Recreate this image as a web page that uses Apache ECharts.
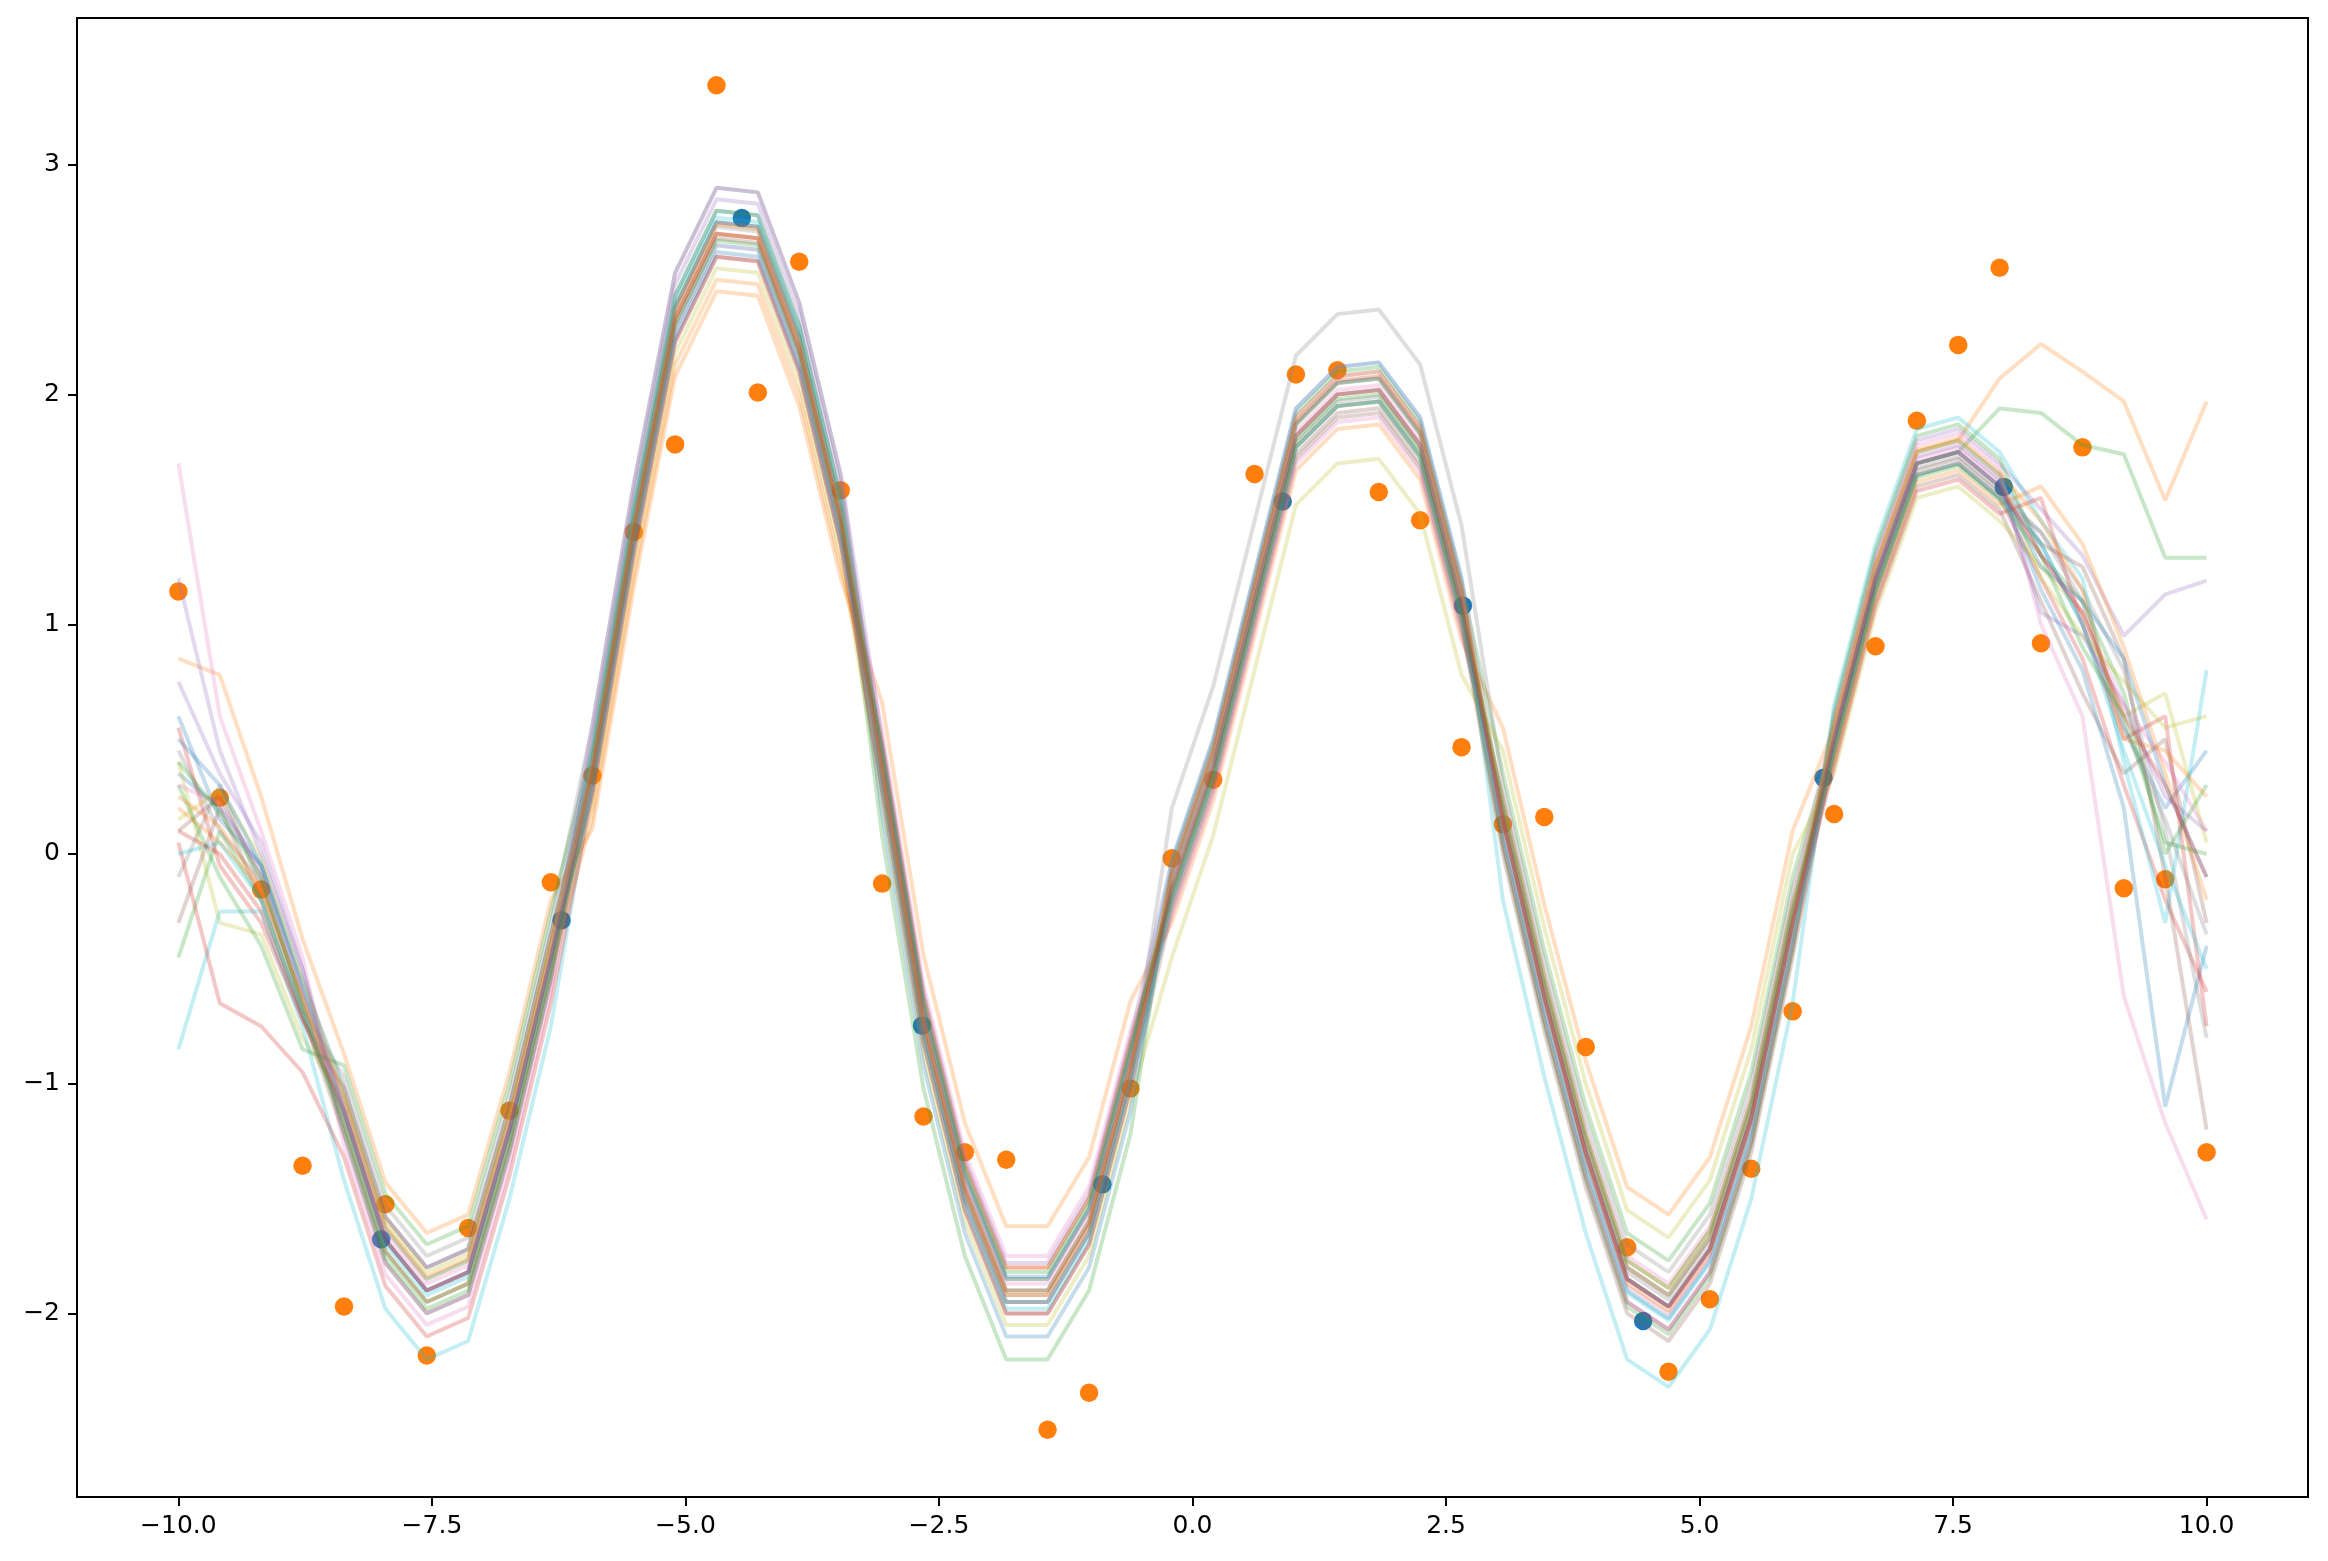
<!DOCTYPE html>
<html>
<head>
<meta charset="utf-8">
<script src="https://cdn.jsdelivr.net/npm/echarts@6/dist/echarts.min.js"></script>
<style>
html,body{margin:0;padding:0;background:#fff;}
#chart{width:2328px;height:1561px;}
</style>
</head>
<body>
<div id="chart"></div>
<script>
// ---- data ----
const xGrid = [-10.000,-9.592,-9.184,-8.776,-8.367,-7.959,-7.551,-7.143,-6.735,-6.327,
  -5.918,-5.510,-5.102,-4.694,-4.286,-3.878,-3.469,-3.061,-2.653,-2.245,
  -1.837,-1.429,-1.020,-0.612,-0.204,0.204,0.612,1.020,1.429,1.837,
  2.245,2.653,3.061,3.469,3.878,4.286,4.694,5.102,5.510,5.918,
  6.327,6.735,7.143,7.551,7.959,8.367,8.776,9.184,9.592,10.000];

const observedY = [1.143,0.245,-0.155,-1.357,-1.970,-1.525,-2.183,-1.628,-1.118,-0.123,
  0.342,1.402,1.783,3.346,2.009,2.578,1.583,-0.129,-1.143,-1.298,
  -1.331,-2.506,-2.345,-1.021,-0.019,0.323,1.654,2.087,2.106,1.576,
  1.453,0.465,0.129,0.161,-0.840,-1.712,-2.254,-1.938,-1.370,-0.685,
  0.174,0.904,1.886,2.216,2.552,0.917,1.770,-0.149,-0.110,-1.298];

const trainX = [-8.000,-6.222,-4.444,-2.667,-0.889,0.889,2.667,4.444,6.222,8.000];
const trainY = [-1.677,-0.288,2.768,-0.747,-1.438,1.534,1.081,-2.033,0.332,1.598];

const sample01 = [0.35,0.20,-0.05,-0.60,-1.07,-1.63,-1.85,-1.77,-1.15,-0.40,0.46,1.51,2.43,2.80,2.78,2.30,1.55,0.33,-0.77,-1.50,-1.95,-1.95,-1.65,-0.97,-0.10,0.43,1.15,1.87,2.05,2.07,1.83,1.13,0.15,-0.62,-1.30,-1.85,-1.97,-1.72,-1.15,-0.30,0.55,1.25,1.75,1.80,1.65,1.35,1.00,0.55,0.20,0.45];
const sample02 = [0.85,0.78,0.25,-0.37,-0.87,-1.43,-1.65,-1.57,-0.95,-0.20,0.11,1.16,2.08,2.45,2.43,1.95,1.20,0.66,-0.44,-1.17,-1.62,-1.62,-1.32,-0.64,-0.30,0.23,0.95,1.67,1.85,1.87,1.63,0.93,0.55,-0.22,-0.90,-1.45,-1.57,-1.32,-0.75,0.10,0.55,1.25,1.75,1.80,2.07,2.22,2.10,1.97,1.54,1.97];
const sample03 = [-0.45,0.10,-0.20,-0.70,-1.17,-1.73,-1.95,-1.87,-1.25,-0.50,0.41,1.46,2.38,2.75,2.73,2.25,1.50,0.08,-1.02,-1.75,-2.20,-2.20,-1.90,-1.22,-0.05,0.48,1.20,1.92,2.10,2.12,1.88,1.18,0.35,-0.42,-1.10,-1.65,-1.77,-1.52,-0.95,-0.10,0.50,1.20,1.70,1.75,1.94,1.92,1.78,1.74,1.29,1.29];
const sample04 = [0.55,-0.05,-0.30,-0.72,-1.02,-1.58,-1.80,-1.72,-1.10,-0.35,0.36,1.41,2.33,2.70,2.68,2.20,1.45,0.48,-0.62,-1.35,-1.80,-1.80,-1.50,-0.82,-0.20,0.33,1.05,1.77,1.95,1.97,1.73,1.03,0.05,-0.72,-1.40,-1.95,-2.07,-1.82,-1.25,-0.40,0.45,1.15,1.65,1.70,1.55,1.20,0.85,0.30,-0.20,-0.60];
const sample05 = [1.20,0.45,0.00,-0.50,-1.22,-1.78,-2.00,-1.92,-1.30,-0.55,0.51,1.56,2.48,2.85,2.83,2.35,1.60,0.43,-0.67,-1.40,-1.85,-1.85,-1.55,-0.87,-0.07,0.46,1.18,1.90,2.08,2.10,1.86,1.16,0.05,-0.72,-1.40,-1.95,-2.07,-1.82,-1.25,-0.40,0.60,1.30,1.80,1.85,1.70,1.50,1.30,0.95,1.13,1.19];
const sample06 = [0.10,0.25,-0.10,-0.65,-1.12,-1.68,-1.90,-1.82,-1.20,-0.45,0.26,1.31,2.23,2.60,2.58,2.10,1.35,0.28,-0.82,-1.55,-2.00,-2.00,-1.70,-1.02,-0.25,0.28,1.00,1.72,1.90,1.92,1.68,0.98,0.20,-0.57,-1.25,-1.80,-1.92,-1.67,-1.10,-0.25,0.40,1.10,1.60,1.65,1.50,1.10,0.70,0.35,0.50,-0.30];
const sample07 = [1.70,0.60,0.10,-0.45,-1.27,-1.83,-2.05,-1.97,-1.35,-0.60,0.41,1.46,2.38,2.75,2.73,2.25,1.50,0.53,-0.57,-1.30,-1.75,-1.75,-1.45,-0.77,-0.27,0.26,0.98,1.70,1.88,1.90,1.66,0.96,0.25,-0.52,-1.20,-1.75,-1.87,-1.62,-1.05,-0.20,0.58,1.28,1.78,1.83,1.68,1.00,0.60,-0.62,-1.17,-1.59];
const sample08 = [-0.10,0.30,-0.15,-0.68,-0.97,-1.53,-1.75,-1.67,-1.05,-0.30,0.56,1.61,2.53,2.90,2.88,2.40,1.65,0.33,-0.77,-1.50,-1.95,-1.95,-1.65,-0.97,0.20,0.73,1.45,2.17,2.35,2.37,2.13,1.43,0.30,-0.47,-1.15,-1.70,-1.82,-1.57,-1.00,-0.15,0.45,1.15,1.65,1.70,1.55,1.40,1.15,0.80,0.10,-0.80];
const sample09 = [0.40,-0.30,-0.35,-0.80,-1.07,-1.63,-1.85,-1.77,-1.15,-0.40,0.21,1.26,2.18,2.55,2.53,2.05,1.30,0.23,-0.87,-1.60,-2.05,-2.05,-1.75,-1.07,-0.45,0.08,0.80,1.52,1.70,1.72,1.48,0.78,0.45,-0.32,-1.00,-1.55,-1.67,-1.42,-0.85,0.00,0.35,1.05,1.55,1.60,1.45,1.25,1.05,0.60,0.70,0.05];
const sample10 = [-0.85,-0.25,-0.25,-0.75,-1.42,-1.98,-2.20,-2.12,-1.50,-0.75,0.31,1.36,2.28,2.65,2.63,2.15,1.40,0.38,-0.72,-1.45,-1.90,-1.90,-1.60,-0.92,-0.03,0.50,1.22,1.94,2.12,2.14,1.90,1.20,-0.20,-0.97,-1.65,-2.20,-2.32,-2.07,-1.50,-0.65,0.65,1.35,1.85,1.90,1.75,1.45,1.20,0.40,-0.30,0.80];
const sample11 = [0.60,0.15,-0.05,-0.55,-1.02,-1.58,-1.80,-1.72,-1.10,-0.35,0.41,1.46,2.38,2.75,2.73,2.25,1.50,0.18,-0.92,-1.65,-2.10,-2.10,-1.80,-1.12,-0.10,0.43,1.15,1.87,2.05,2.07,1.83,1.13,0.10,-0.67,-1.35,-1.90,-2.02,-1.77,-1.20,-0.35,0.50,1.20,1.70,1.75,1.60,1.15,0.80,0.20,-1.10,-0.40];
const sample12 = [0.20,0.05,-0.15,-0.62,-1.17,-1.73,-1.95,-1.87,-1.25,-0.50,0.16,1.21,2.13,2.50,2.48,2.00,1.25,0.48,-0.62,-1.35,-1.80,-1.80,-1.50,-0.82,-0.15,0.38,1.10,1.82,2.00,2.02,1.78,1.08,0.23,-0.54,-1.22,-1.77,-1.89,-1.64,-1.07,-0.22,0.42,1.12,1.62,1.67,1.52,1.60,1.35,0.90,0.35,-0.20];
const sample13 = [0.30,-0.10,-0.40,-0.85,-0.92,-1.48,-1.70,-1.62,-1.00,-0.25,0.46,1.51,2.43,2.80,2.78,2.30,1.55,0.43,-0.67,-1.40,-1.85,-1.85,-1.55,-0.87,-0.20,0.33,1.05,1.77,1.95,1.97,1.73,1.03,0.03,-0.74,-1.42,-1.97,-2.09,-1.84,-1.27,-0.42,0.62,1.32,1.82,1.87,1.72,1.30,1.10,0.70,0.00,0.30];
const sample14 = [0.05,-0.65,-0.75,-0.95,-1.32,-1.88,-2.10,-2.02,-1.40,-0.65,0.26,1.31,2.23,2.60,2.58,2.10,1.35,0.28,-0.82,-1.55,-2.00,-2.00,-1.70,-1.02,-0.09,0.44,1.16,1.88,2.06,2.08,1.84,1.14,0.15,-0.62,-1.30,-1.85,-1.97,-1.72,-1.15,-0.30,0.38,1.08,1.58,1.63,1.48,1.55,1.00,0.50,0.60,-0.75];
const sample15 = [0.75,0.35,0.05,-0.50,-1.12,-1.68,-1.90,-1.82,-1.20,-0.45,0.56,1.61,2.53,2.90,2.88,2.40,1.65,0.50,-0.60,-1.33,-1.78,-1.78,-1.48,-0.80,-0.03,0.50,1.22,1.94,2.12,2.14,1.90,1.20,0.20,-0.57,-1.25,-1.80,-1.92,-1.67,-1.10,-0.25,0.53,1.23,1.73,1.78,1.63,1.05,0.95,0.65,0.25,0.10];
const sample16 = [-0.30,0.20,-0.20,-0.70,-1.22,-1.78,-2.00,-1.92,-1.30,-0.55,0.34,1.39,2.31,2.68,2.66,2.18,1.43,0.36,-0.74,-1.47,-1.92,-1.92,-1.62,-0.94,-0.23,0.30,1.02,1.74,1.92,1.94,1.70,1.00,0.00,-0.77,-1.45,-2.00,-2.12,-1.87,-1.30,-0.45,0.47,1.17,1.67,1.72,1.57,1.35,1.25,0.85,-0.10,-1.20];
const sample17 = [0.30,0.22,-0.08,-0.60,-1.09,-1.65,-1.87,-1.79,-1.17,-0.42,0.31,1.36,2.28,2.65,2.63,2.15,1.40,0.41,-0.69,-1.42,-1.87,-1.87,-1.57,-0.89,-0.13,0.40,1.12,1.84,2.02,2.04,1.80,1.10,0.12,-0.65,-1.33,-1.88,-2.00,-1.75,-1.18,-0.33,0.52,1.22,1.72,1.77,1.62,1.30,1.05,0.65,0.40,0.10];
const sample18 = [0.45,0.10,-0.12,-0.65,-1.17,-1.73,-1.95,-1.87,-1.25,-0.50,0.39,1.44,2.36,2.73,2.71,2.23,1.48,0.33,-0.77,-1.50,-1.95,-1.95,-1.65,-0.97,-0.18,0.35,1.07,1.79,1.97,1.99,1.75,1.05,0.18,-0.59,-1.27,-1.82,-1.94,-1.69,-1.12,-0.27,0.48,1.18,1.68,1.73,1.58,1.40,1.10,0.55,0.15,-0.35];
const sample19 = [0.15,0.28,-0.02,-0.55,-1.04,-1.60,-1.82,-1.74,-1.12,-0.37,0.36,1.41,2.33,2.70,2.68,2.20,1.45,0.38,-0.72,-1.45,-1.90,-1.90,-1.60,-0.92,-0.10,0.43,1.15,1.87,2.05,2.07,1.83,1.13,0.20,-0.57,-1.25,-1.80,-1.92,-1.67,-1.10,-0.25,0.55,1.25,1.75,1.80,1.65,1.20,0.95,0.75,0.55,0.60];
const sample20 = [0.00,0.05,-0.20,-0.70,-1.14,-1.70,-1.92,-1.84,-1.22,-0.47,0.43,1.48,2.40,2.77,2.75,2.27,1.52,0.30,-0.80,-1.53,-1.98,-1.98,-1.68,-1.00,-0.20,0.33,1.05,1.77,1.95,1.97,1.73,1.03,0.09,-0.68,-1.36,-1.91,-2.03,-1.78,-1.21,-0.36,0.45,1.15,1.65,1.70,1.55,1.35,1.00,0.45,-0.05,-0.50];
const sample21 = [0.50,0.30,-0.05,-0.58,-1.12,-1.68,-1.90,-1.82,-1.20,-0.45,0.28,1.33,2.25,2.62,2.60,2.12,1.37,0.44,-0.66,-1.39,-1.84,-1.84,-1.54,-0.86,-0.15,0.38,1.10,1.82,2.00,2.02,1.78,1.08,0.15,-0.62,-1.30,-1.85,-1.97,-1.72,-1.15,-0.30,0.50,1.20,1.70,1.75,1.60,1.25,1.10,0.85,0.30,-0.10];
const sample22 = [0.25,0.12,-0.15,-0.63,-1.06,-1.62,-1.84,-1.76,-1.14,-0.39,0.40,1.45,2.37,2.74,2.72,2.24,1.49,0.36,-0.74,-1.47,-1.92,-1.92,-1.62,-0.94,-0.07,0.46,1.18,1.90,2.08,2.10,1.86,1.16,0.13,-0.64,-1.32,-1.87,-1.99,-1.74,-1.17,-0.32,0.56,1.26,1.76,1.81,1.66,1.45,1.15,0.50,0.45,0.25];
const sample23 = [0.40,0.18,-0.10,-0.66,-1.20,-1.76,-1.98,-1.90,-1.28,-0.53,0.33,1.38,2.30,2.67,2.65,2.17,1.42,0.46,-0.64,-1.37,-1.82,-1.82,-1.52,-0.84,-0.17,0.36,1.08,1.80,1.98,2.00,1.76,1.06,0.23,-0.54,-1.22,-1.77,-1.89,-1.64,-1.07,-0.22,0.44,1.14,1.64,1.69,1.54,1.30,0.90,0.60,0.05,0.00];
const sample24 = [0.10,0.00,-0.25,-0.72,-1.12,-1.68,-1.90,-1.82,-1.20,-0.45,0.36,1.41,2.33,2.70,2.68,2.20,1.45,0.38,-0.72,-1.45,-1.90,-1.90,-1.60,-0.92,-0.15,0.38,1.10,1.82,2.00,2.02,1.78,1.08,0.15,-0.62,-1.30,-1.85,-1.97,-1.72,-1.15,-0.30,0.50,1.20,1.70,1.75,1.60,1.30,1.05,0.60,0.30,-0.10];

const samples = [sample01,sample02,sample03,sample04,sample05,sample06,sample07,sample08,
                 sample09,sample10,sample11,sample12,sample13,sample14,sample15,sample16,
                 sample17,sample18,sample19,sample20,sample21,sample22,sample23,sample24];

const xTickValues = [-10,-7.5,-5,-2.5,0,2.5,5,7.5,10];
const yTickValues = [-2,-1,0,1,2,3];

const tab10 = ['#1f77b4','#ff7f0e','#2ca02c','#d62728','#9467bd','#8c564b','#e377c2','#7f7f7f','#bcbd22','#17becf'];

// ---- chart ----
const chart = echarts.init(document.getElementById('chart'), null, {renderer:'canvas'});
const fontFamily = 'DejaVu Sans';
const minusFmt = (v, d) => (v < 0 ? '\u2212' : '') + Math.abs(v).toFixed(d);

const series = [];
series.push({
  type:'scatter', z:1, silent:true,
  data: trainX.map((x,i)=>[x, trainY[i]]),
  symbolSize:18.5,
  itemStyle:{color:'#1f77b4', opacity:1}
});
series.push({
  type:'scatter', z:1, silent:true,
  data: xGrid.map((x,i)=>[x, observedY[i]]),
  symbolSize:18.5,
  itemStyle:{color:'#ff7f0e', opacity:1}
});
samples.forEach((s,k)=>{
  series.push({
    type:'line', z:3, silent:true,
    data: xGrid.map((x,i)=>[x, s[i]]),
    showSymbol:false, symbol:'none',
    lineStyle:{color:tab10[k % 10], width:4, opacity:0.26},
    emphasis:{disabled:true}
  });
});

chart.setOption({
  animation:false,
  backgroundColor:'#ffffff',
  grid:{left:77, right:20, top:18, bottom:64, show:true, borderColor:'#000', borderWidth:2, backgroundColor:'transparent'},
  xAxis:{
    type:'value', min:-11, max:11,
    axisLine:{show:true, onZero:false, lineStyle:{color:'#000', width:2}},
    axisTick:{show:true, length:9, inside:false, customValues:xTickValues, lineStyle:{color:'#000', width:2}},
    axisLabel:{show:true, customValues:xTickValues, margin:17, color:'#000', fontSize:25, fontFamily:fontFamily,
      formatter: v => minusFmt(v, 1)},
    splitLine:{show:false}
  },
  yAxis:{
    type:'value', min:-2.799, max:3.639,
    axisLine:{show:true, onZero:false, lineStyle:{color:'#000', width:2}},
    axisTick:{show:true, length:9, inside:false, customValues:yTickValues, lineStyle:{color:'#000', width:2}},
    axisLabel:{show:true, customValues:yTickValues, margin:17, color:'#000', fontSize:25, fontFamily:fontFamily,
      formatter: v => minusFmt(v, 0)},
    splitLine:{show:false}
  },
  series: series
});
</script>
</body>
</html>
